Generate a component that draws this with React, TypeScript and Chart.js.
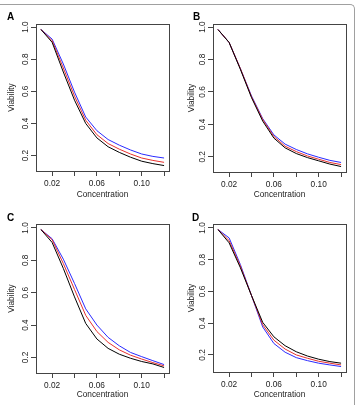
import React, { useEffect, useRef } from 'react';
import { Chart, registerables } from 'chart.js';

Chart.register(...registerables);

// ---------- data ----------
const concentration = [0.01, 0.02, 0.03, 0.04, 0.05, 0.06, 0.07, 0.08, 0.09, 0.1, 0.11, 0.12];

const aBlack = [0.985, 0.905, 0.72, 0.545, 0.4, 0.31, 0.255, 0.22, 0.19, 0.165, 0.15, 0.138];
const aRed = [0.985, 0.915, 0.745, 0.57, 0.42, 0.33, 0.275, 0.24, 0.21, 0.185, 0.17, 0.158];
const aBlue = [0.985, 0.925, 0.77, 0.595, 0.44, 0.355, 0.3, 0.265, 0.235, 0.21, 0.195, 0.185];

const bBlack = [0.985, 0.905, 0.74, 0.565, 0.42, 0.315, 0.255, 0.22, 0.195, 0.175, 0.155, 0.14];
const bRed = [0.985, 0.905, 0.745, 0.57, 0.43, 0.325, 0.265, 0.232, 0.205, 0.185, 0.165, 0.152];
const bBlue = [0.985, 0.905, 0.745, 0.575, 0.435, 0.335, 0.278, 0.245, 0.218, 0.197, 0.178, 0.165];

const cBlack = [0.99, 0.91, 0.75, 0.574, 0.41, 0.314, 0.256, 0.22, 0.195, 0.175, 0.16, 0.138];
const cRed = [0.99, 0.927, 0.78, 0.62, 0.46, 0.36, 0.293, 0.247, 0.214, 0.19, 0.168, 0.148];
const cBlue = [0.99, 0.933, 0.807, 0.657, 0.5, 0.4, 0.324, 0.272, 0.231, 0.205, 0.18, 0.156];

const dBlack = [0.99, 0.906, 0.75, 0.574, 0.405, 0.314, 0.258, 0.22, 0.193, 0.173, 0.158, 0.148];
const dRed = [0.99, 0.92, 0.76, 0.574, 0.39, 0.293, 0.237, 0.2, 0.179, 0.16, 0.148, 0.137];
const dBlue = [0.99, 0.937, 0.77, 0.574, 0.376, 0.272, 0.217, 0.183, 0.164, 0.148, 0.137, 0.127];

const xTickValues = [0.02, 0.04, 0.06, 0.08, 0.1, 0.12];
const xTickLabels = ['0.02', '', '0.06', '', '0.10', ''];
const yTickValues = [0.2, 0.4, 0.6, 0.8, 1.0];
const yTickLabels = ['0.2', '0.4', '0.6', '0.8', '1.0'];

const panelLetters = ['A', 'B', 'C', 'D'];
const seriesColors = ['#000000', '#e8302e', '#2a2aff'];
const xTitle = 'Concentration';
const yTitle = 'Viability';

const panelSeries = [
  [aBlack, aRed, aBlue],
  [bBlack, bRed, bBlue],
  [cBlack, cRed, cBlue],
  [dBlack, dRed, dBlue],
];

// ---------- layout (styles only) ----------
const FONT = '"Liberation Sans", Arial, Helvetica, sans-serif';
const panelLayouts = [
  { left: 0, top: 0, width: 180, height: 200, plotLeft: 36, plotRight: 169, plotTop: 24, plotBottom: 171, letterX: 7, letterY: 20 },
  { left: 180, top: 0, width: 179, height: 200, plotLeft: 33, plotRight: 166, plotTop: 24, plotBottom: 172, letterX: 13, letterY: 20 },
  { left: 0, top: 200, width: 180, height: 200, plotLeft: 36, plotRight: 169, plotTop: 24, plotBottom: 173, letterX: 7, letterY: 21 },
  { left: 180, top: 200, width: 179, height: 200, plotLeft: 33, plotRight: 166, plotTop: 24, plotBottom: 172, letterX: 12, letterY: 21 },
];

type Layout = typeof panelLayouts[number];

function Panel({ letter, series, layout }: { letter: string; series: number[][]; layout: Layout }) {
  const ref = useRef<HTMLCanvasElement | null>(null);

  useEffect(() => {
    if (!ref.current) return;
    const all = series.flat();
    const yLo = Math.min(...all);
    const yHi = Math.max(...all);
    const yPad = (yHi - yLo) * 0.04;
    const xLo = Math.min(...concentration);
    const xHi = Math.max(...concentration);
    const xPad = (xHi - xLo) * 0.04;

    const axisColor = '#444444';
    const textColor = '#222222';
    const tickFont = { family: FONT, size: 8.3, lineHeight: 1.2 };

    const boxPlugin = {
      id: 'boxAndLetter',
      afterDatasetsDraw(chart: any) {
        const { ctx, chartArea } = chart;
        ctx.save();
        ctx.strokeStyle = axisColor;
        ctx.lineWidth = 1;
        const l = Math.round(chartArea.left) + 0.5;
        const t = Math.round(chartArea.top) + 0.5;
        const r = Math.round(chartArea.right) + 0.5;
        const b = Math.round(chartArea.bottom) + 0.5;
        ctx.strokeRect(l, t, r - l, b - t);
        ctx.restore();
      },
      afterDraw(chart: any) {
        const { ctx } = chart;
        ctx.save();
        ctx.fillStyle = '#000';
        ctx.font = `bold 10px ${FONT}`;
        ctx.textBaseline = 'alphabetic';
        ctx.textAlign = 'left';
        ctx.fillText(letter, layout.letterX, layout.letterY);
        ctx.restore();
      },
    };

    const chart = new Chart(ref.current, {
      type: 'line',
      data: {
        datasets: series.map((vals, si) => ({
          data: concentration.map((x, i) => ({ x, y: vals[i] })),
          borderColor: seriesColors[si],
          borderWidth: 1,
          pointRadius: 0,
          tension: 0,
          fill: false,
        })),
      },
      options: {
        animation: false,
        responsive: false,
        maintainAspectRatio: false,
        layout: { padding: { top: layout.plotTop, right: layout.width - layout.plotRight, left: 0, bottom: 0 } },
        plugins: { legend: { display: false }, tooltip: { enabled: false }, title: { display: false } },
        scales: {
          x: {
            type: 'linear',
            min: xLo - xPad,
            max: xHi + xPad,
            afterFit: (s: any) => { s.height = layout.height - layout.plotBottom; },
            afterBuildTicks: (s: any) => { s.ticks = xTickValues.map((v) => ({ value: v })); },
            ticks: {
              autoSkip: false,
              maxRotation: 0,
              minRotation: 0,
              padding: 2.5,
              color: textColor,
              font: tickFont,
              callback: (_v: any, i: number) => xTickLabels[i],
            },
            grid: { display: true, drawOnChartArea: false, drawTicks: true, tickLength: 5, color: axisColor, lineWidth: 1 },
            border: { display: false },
            title: { display: true, text: xTitle, color: textColor, font: tickFont, padding: { top: 0, bottom: 0 } },
          },
          y: {
            type: 'linear',
            min: yLo - yPad,
            max: yHi + yPad,
            afterFit: (s: any) => { s.width = layout.plotLeft; },
            afterBuildTicks: (s: any) => { s.ticks = yTickValues.map((v) => ({ value: v })); },
            ticks: {
              autoSkip: false,
              minRotation: 90,
              maxRotation: 90,
              crossAlign: 'center',
              padding: 0,
              color: textColor,
              font: tickFont,
              callback: (_v: any, i: number) => yTickLabels[i],
            },
            grid: { display: true, drawOnChartArea: false, drawTicks: true, tickLength: 5, color: axisColor, lineWidth: 1 },
            border: { display: false },
            title: { display: true, text: yTitle, color: textColor, font: tickFont, padding: { top: 6.5, bottom: 0 } },
          },
        },
      } as any,
      plugins: [boxPlugin],
    });
    return () => chart.destroy();
  }, [letter, series, layout]);

  return (
    <canvas
      ref={ref}
      width={layout.width}
      height={layout.height}
      style={{ position: 'absolute', left: layout.left, top: layout.top, width: layout.width, height: layout.height }}
    />
  );
}

export default function App() {
  return (
    <div style={{ position: 'absolute', left: 0, top: 0, width: 359, height: 405, overflow: 'hidden', background: '#fff' }}>
      <div
        style={{
          position: 'absolute',
          left: -10,
          top: 4,
          width: 365,
          height: 500,
          boxSizing: 'border-box',
          borderTop: '1px solid #a0a0a0',
          borderRight: '1px solid #a0a0a0',
          borderTopRightRadius: 5,
        }}
      />
      {panelLetters.map((letter, i) => (
        <Panel key={letter} letter={letter} series={panelSeries[i]} layout={panelLayouts[i]} />
      ))}
    </div>
  );
}
